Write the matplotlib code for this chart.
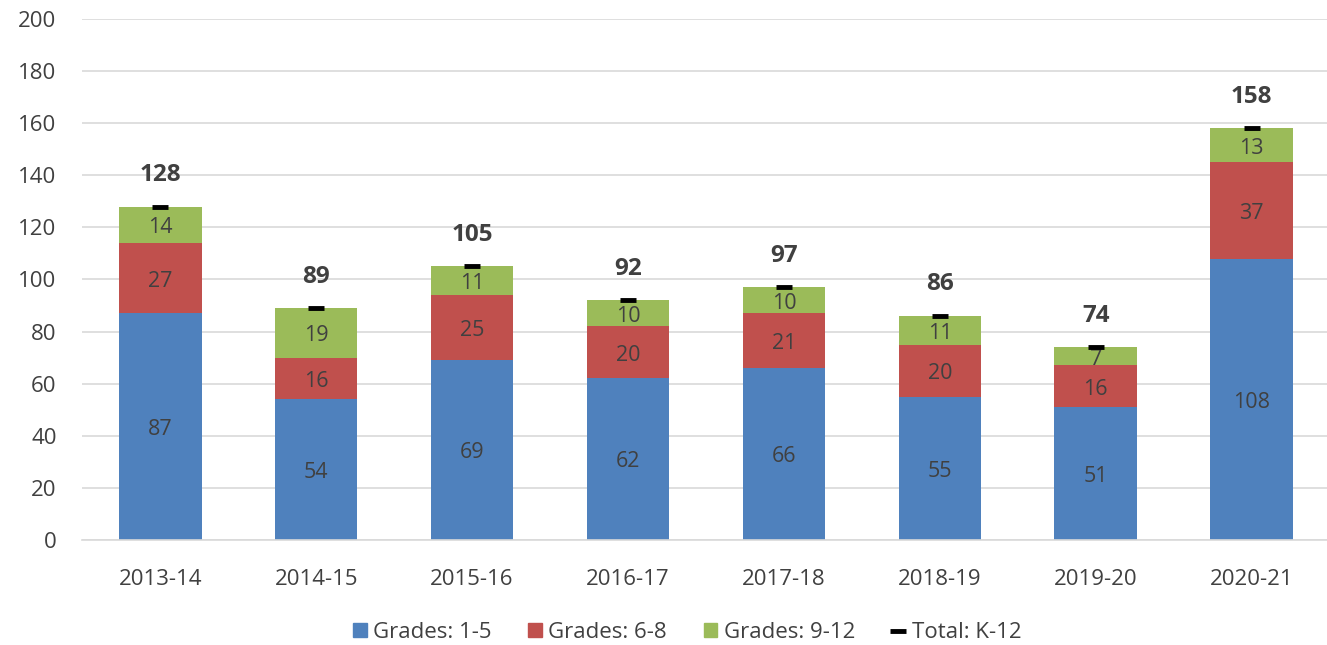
import matplotlib
matplotlib.use("Agg")
import matplotlib.pyplot as plt
from matplotlib.lines import Line2D
from matplotlib.patches import Patch
import numpy as np

years = ["2013-14", "2014-15", "2015-16", "2016-17", "2017-18", "2018-19", "2019-20", "2020-21"]
grades_1_5 = [87, 54, 69, 62, 66, 55, 51, 108]
grades_6_8 = [27, 16, 25, 20, 21, 20, 16, 37]
grades_9_12 = [14, 19, 11, 10, 10, 11, 7, 13]
totals = [128, 89, 105, 92, 97, 86, 74, 158]

plt.rcParams['font.family'] = ['Open Sans', 'DejaVu Sans']
TXT = '#404040'
C1, C2, C3 = '#4F81BD', '#C0504D', '#9BBB59'

fig = plt.figure(figsize=(13.27, 6.45), dpi=100)
ax = fig.add_axes([0.062, 0.163, 0.94, 0.8075])

x = np.arange(len(years))
w = 0.53
b1 = np.array(grades_1_5)
b2 = np.array(grades_6_8)
b3 = np.array(grades_9_12)
ax.bar(x, b1, w, color=C1, zorder=2)
ax.bar(x, b2, w, bottom=b1, color=C2, zorder=2)
ax.bar(x, b3, w, bottom=b1 + b2, color=C3, zorder=2)

dy = 1.1
for i in range(len(x)):
    ax.text(x[i], b1[i] / 2 - dy, str(b1[i]), ha='center', va='center', fontsize=15.5, color=TXT, zorder=3)
    ax.text(x[i], b1[i] + b2[i] / 2 - dy, str(b2[i]), ha='center', va='center', fontsize=15.5, color=TXT, zorder=3)
    ax.text(x[i], b1[i] + b2[i] + b3[i] / 2 - dy, str(b3[i]), ha='center', va='center', fontsize=15.5, color=TXT, zorder=3)
    ax.text(x[i], totals[i] + 7.5, str(totals[i]), ha='center', va='bottom', fontsize=17.5, fontweight='bold', color=TXT, zorder=3)

ax.plot(x, totals, linestyle='none', marker='_', markersize=11, markeredgewidth=3.5, color='black', zorder=4)

ax.set_xlim(-0.5, len(years) - 0.5)
ax.set_ylim(0, 200)
ax.set_yticks(np.arange(0, 201, 20))
ax.set_xticks(x)
ax.set_xticklabels(years)
ax.tick_params(axis='both', length=0, labelsize=16, colors=TXT)
ax.tick_params(axis='x', pad=21)
ax.tick_params(axis='y', pad=18.5)
ax.grid(axis='y', color='#D9D9D9', linewidth=1.2, zorder=0)
for s in ['top', 'right', 'left']:
    ax.spines[s].set_visible(False)
ax.spines['bottom'].set_color('#D9D9D9')
ax.spines['bottom'].set_linewidth(1.2)

handles = [Patch(color=C1, label='Grades: 1-5'),
           Patch(color=C2, label='Grades: 6-8'),
           Patch(color=C3, label='Grades: 9-12'),
           Line2D([0], [0], linestyle='none', marker='_', markersize=11, markeredgewidth=3.5, color='black', label='Total: K-12')]
leg = fig.legend(handles=handles, loc='center', bbox_to_anchor=(0.518, 0.019), ncol=4, frameon=False,
                 fontsize=16, handlelength=0.6, handleheight=0.6, handletextpad=0.3, columnspacing=1.65)
for t in leg.get_texts():
    t.set_color(TXT)

fig.savefig('out.png', dpi=100)
